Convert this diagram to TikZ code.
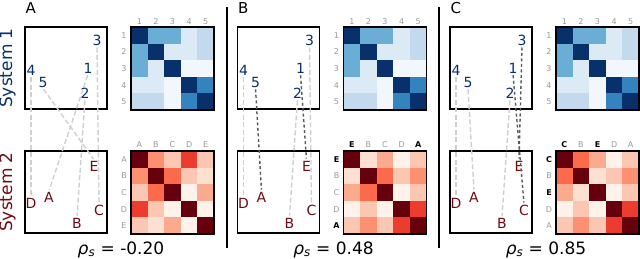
\documentclass[tikz,border=0pt]{standalone}
\usepackage{fontspec}
\setmainfont{DejaVu Sans}
\usetikzlibrary{positioning}

\definecolor{navy}{HTML}{08306B}
\definecolor{wine}{HTML}{700A12}
% blues, dark to pale
\definecolor{blue0}{HTML}{08306B}
\definecolor{blue1}{HTML}{3383BE}
\definecolor{blue2}{HTML}{6AAED6}
\definecolor{blue3}{HTML}{C3DAEE}
\definecolor{blue4}{HTML}{DCEAF6}
\definecolor{blue5}{HTML}{F2F7FD}
% reds, dark to pale
\definecolor{red0}{HTML}{67000D}
\definecolor{red1}{HTML}{EC3C30}
\definecolor{red2}{HTML}{FB6A4A}
\definecolor{red3}{HTML}{FC9070}
\definecolor{red4}{HTML}{FCAA8E}
\definecolor{red5}{HTML}{FCC7B2}
\definecolor{red6}{HTML}{FEE0D3}
\definecolor{red7}{HTML}{FFF2EB}
% similarity of system 2 items
\foreach \u/\v/\l in {A/A/0,B/B/0,C/C/0,D/D/0,E/E/0,A/B/3,A/C/5,A/D/1,A/E/5,
    B/C/2,B/D/5,B/E/6,C/D/7,C/E/4,D/E/7}{%
  \xglobal\colorlet{pair\u\v}{red\l}\xglobal\colorlet{pair\v\u}{red\l}}

\begin{document}
\begin{tikzpicture}[
    x=1pt, y=-1pt,
    every node/.style={inner sep=1pt},
    arena/.style={draw, line width=1.3pt, minimum size=82pt, inner sep=0pt},
    simbox/.style={draw, line width=1.3pt, minimum size=83pt, inner sep=0pt},
    paneltag/.style={font=\fontsize{15}{17}\selectfont, anchor=west, inner sep=0pt},
    sysname/.style={font=\fontsize{17}{20}\selectfont, rotate=90},
    itemlab/.style={font=\fontsize{14}{16}\selectfont, text=navy},
    matchlab/.style={font=\fontsize{14}{16}\selectfont, text=wine},
    ticklab/.style={font=\fontsize{8}{9}\selectfont, text=gray!80},
    hotlab/.style={font=\fontsize{8}{9}\selectfont\bfseries, text=black},
    faint/.style={draw=gray!38, line width=1.4pt, dash pattern=on 5pt off 2.5pt, shorten <=1pt, shorten >=1pt},
    moved/.style={draw=black!65, line width=1.4pt, dash pattern=on 3pt off 2.5pt, shorten <=1pt, shorten >=1pt},
    divider/.style={line width=1.5pt}
]
    \useasboundingbox (0,0) rectangle (640,259);

    \node[sysname, text=navy] (sysone) at (7.5,68) {System 1};
    \node[sysname, text=wine] (systwo) at (7.5,192) {System 2};

    \coordinate (cutAtop) at (227,7);
    \coordinate (cutAbot) at (227,248);
    \coordinate (cutBtop) at (439,7);
    \coordinate (cutBbot) at (439,248);
    \draw[divider] (cutAtop) -- (cutAbot);
    \draw[divider] (cutBtop) -- (cutBbot);

    \foreach \p/\dx/\tag/\val/\order/\links in {
        a/0/A/{-0.20}/{A/ticklab,B/ticklab,C/ticklab,D/ticklab,E/ticklab}/{1/A/faint,2/B/faint,3/C/faint,4/D/faint,5/E/faint},
        b/212.5/B/{0.48}/{E/hotlab,B/ticklab,C/ticklab,D/ticklab,A/hotlab}/{2/B/faint,3/C/faint,4/D/faint,1/E/moved,5/A/moved},
        c/425/C/{0.85}/{C/hotlab,B/ticklab,E/hotlab,D/ticklab,A/ticklab}/{2/B/faint,4/D/faint,5/A/faint,1/C/moved,3/E/moved}}{
    \begin{scope}[xshift=\dx]
        \node[paneltag] (\p tag) at (25.5,8) {\tag};
        \node[arena] (\p top) at (66,68) {};
        \node[arena] (\p bot) at (66,192) {};

        % items of both systems
        \foreach \n/\px/\py in {1/88/68,2/85/93,3/97/40,4/31/70,5/43/82}
            \node[itemlab] (\p n\n) at (\px,\py) {\n};
        \foreach \m/\px/\py in {A/49/197,B/77/223,C/99/210,D/31/203,E/94/166}
            \node[matchlab] (\p m\m) at (\px,\py) {\m};
        \foreach \n/\m/\s in \links
            \draw[\s] (\p n\n.south) -- (\p m\m.north);

        % system 1 similarity
        \foreach \row [count=\i] in {{0,2,2,4,3},{2,0,4,4,3},{2,4,0,5,5},{4,4,5,0,1},{3,3,5,1,0}}{
            \node[ticklab] (\p row\i) at (124,{35.3+(\i-1)*16.6}) {\i};
            \node[ticklab] (\p col\i) at ({139.3+(\i-1)*16.6},21.5) {\i};
            \foreach \l [count=\j] in \row
                \fill[fill=blue\l] ({131+(\j-1)*16.6},{27+(\i-1)*16.6}) rectangle ++(16.6,16.6);
        }
        \node[simbox] (\p simone) at (172.5,68.5) {};

        % system 2 similarity, reordered
        \foreach \rl/\rs [count=\i] in \order {
            \node[\rs] (\p rrow\i) at (124,{159.3+(\i-1)*16.6}) {\rl};
            \node[\rs] (\p rcol\i) at ({139.3+(\i-1)*16.6},145) {\rl};
            \foreach \cl/\cs [count=\j] in \order
                \fill[fill=pair\rl\cl] ({131+(\j-1)*16.6},{151+(\i-1)*16.6}) rectangle ++(16.6,16.6);
        }
        \node[simbox] (\p simtwo) at (172.5,192.5) {};

        \node[font=\fontsize{17}{20}\selectfont, anchor=base] (\p rho) at (121,254)
            {\textit{ρ}\textsubscript{\textit{s}} = \val};
    \end{scope}
    }
\end{tikzpicture}
\end{document}
